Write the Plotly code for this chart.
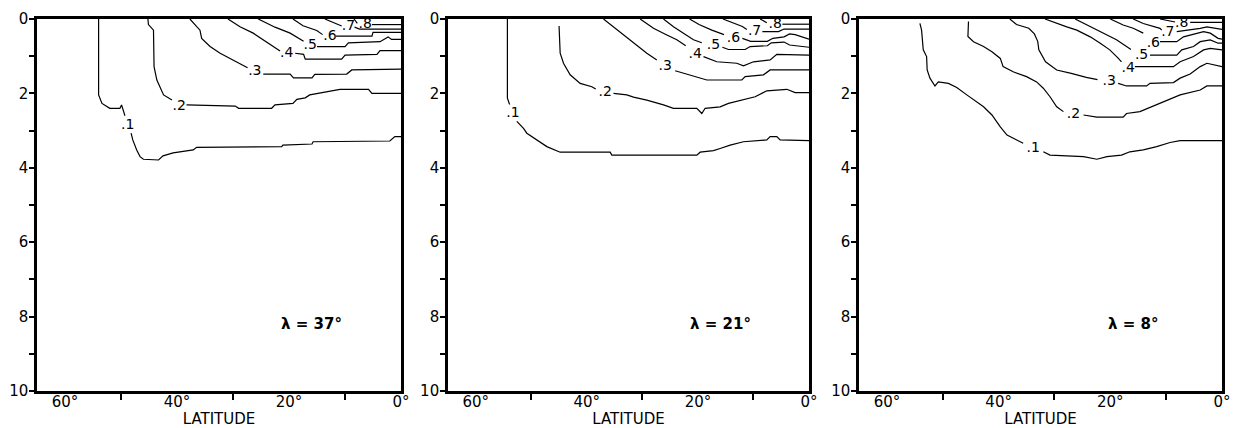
import plotly.graph_objects as go

# ---------------- data (latitude in degrees, depth in axis units) ----------------
panel_titles = ["λ = 37°", "λ = 21°", "λ = 8°"]
level_labels = [".1", ".2", ".3", ".4", ".5", ".6", ".7", ".8"]
x_tick_vals = [60, 40, 20, 0]
x_tick_text = ["60°", "40°", "20°", "0°"]
x_minor_vals = [50, 30, 10]
y_tick_vals = [0, 2, 4, 6, 8, 10]
y_minor_vals = [1, 3, 5, 7, 9]

# Panel 1 (lambda = 37)
p1_lat = [
    [54.0, 54.0, 53.4, 52.0, 50.2, 49.9, 49.3, None, 48.2, 47.9, 47.2, 46.6, 46.0, 43.3, 42.5, 40.7, 37.1, 36.5, 21.3, 21.1, 15.9, 15.7, 2.0, 1.1, 0.0],
    [45.2, 45.1, 44.2, 44.1, 43.6, 42.4, 40.9, None, 38.3, 29.6, 29.0, 23.1, 22.5, 19.3, 18.6, 17.1, 16.3, 14.8, 12.1, 10.9, 5.8, 5.2, 0.0],
    [37.7, 35.9, 35.6, 34.1, 32.3, 29.9, 28.2, 27.4, None, 24.6, 19.8, 19.2, 15.9, 15.4, 9.7, 8.8, 0.0],
    [30.9, 28.75, 26.4, 24.0, 22.2, 21.6, None, 18.9, 17.4, 17.1, 10.6, 10.0, 4.3, 3.75, 0.0],
    [25.5, 22.5, 19.8, 18.2, 17.4, None, 15.0, 10.0, 9.4, 3.75, 2.3, 1.7, 0.0],
    [19.3, 17.5, 15.05, 14.0, None, 11.6, 5.2, 5.0, 0.0],
    [13.6, 12.1, 10.6, None, 8.3, 7.4, 0.0],
    [8.4, 7.8, None, 5.2, 0.0],
]
p1_dep = [
    [0.0, 2.04, 2.27, 2.40, 2.40, 2.31, 2.60, None, 3.07, 3.25, 3.52, 3.70, 3.77, 3.79, 3.68, 3.60, 3.52, 3.45, 3.43, 3.39, 3.36, 3.30, 3.28, 3.16, 3.16],
    [0.0, 0.15, 0.30, 1.28, 1.64, 2.04, 2.18, None, 2.31, 2.34, 2.40, 2.40, 2.31, 2.27, 2.16, 2.12, 2.04, 2.00, 1.93, 1.89, 1.89, 2.00, 2.00],
    [0.0, 0.30, 0.52, 0.74, 0.92, 1.10, 1.24, 1.31, None, 1.48, 1.48, 1.58, 1.58, 1.49, 1.48, 1.37, 1.35],
    [0.0, 0.21, 0.38, 0.61, 0.79, 0.86, None, 0.92, 0.95, 1.08, 1.08, 0.97, 0.95, 0.85, 0.85],
    [0.0, 0.22, 0.38, 0.52, 0.60, None, 0.74, 0.74, 0.64, 0.61, 0.48, 0.55, 0.55],
    [0.0, 0.18, 0.31, 0.42, None, 0.46, 0.46, 0.36, 0.36],
    [0.0, 0.10, 0.19, None, 0.22, 0.27, 0.27],
    [0.0, 0.12, None, 0.15, 0.15],
]
p1_label_lat = [48.8, 39.6, 26.1, 20.4, 16.2, 12.7, 9.4, 6.4]
p1_label_dep = [2.85, 2.34, 1.40, 0.94, 0.72, 0.48, 0.21, 0.15]

# Panel 2 (lambda = 21)
p2_lat = [
    [54.3, 54.3, 53.9, None, 52.6, 51.4, 50.8, 49.0, 47.2, 44.8, 35.8, 35.5, 20.2, 19.6, 17.2, 16.0, 14.2, 11.8, 7.6, 7.0, 5.8, 5.2, 0.0],
    [45.0, 44.8, 44.2, 43.0, 41.2, 39.1, 38.4, None, 35.2, 32.8, 31.6, 29.2, 26.2, 24.4, 20.2, 19.3, 18.7, 16.0, 14.5, 11.8, 9.7, 7.6, 4.0, 2.5, 0.0],
    [37.0, 35.2, 33.4, 31.6, 29.2, 27.4, None, 24.1, 22.6, 20.8, 18.4, 12.1, 11.5, 8.2, 7.0, 0.0],
    [30.4, 28.0, 25.6, 23.8, 22.2, None, 19.0, 16.6, 13.0, 11.8, 10.0, 7.0, 5.8, 0.0],
    [26.2, 24.4, 22.6, 20.8, 19.3, None, 15.6, 14.5, 11.5, 10.6, 7.5, 6.8, 4.5, 3.5, 0.0],
    [21.5, 19.8, 17.5, 15.3, None, 12.0, 10.5, 7.5, 6.5, 4.5, 3.5, 2.5, 0.0],
    [15.5, 14.2, 12.0, 11.2, None, 8.4, 5.5, 4.5, 0.0],
    [8.8, 7.6, None, 4.8, 0.0],
]
p2_dep = [
    [0.0, 2.13, 2.30, None, 2.75, 2.94, 3.07, 3.25, 3.43, 3.58, 3.58, 3.66, 3.66, 3.58, 3.54, 3.48, 3.39, 3.30, 3.25, 3.16, 3.16, 3.25, 3.27],
    [0.19, 0.92, 1.19, 1.50, 1.73, 1.82, 1.88, None, 2.00, 2.04, 2.10, 2.18, 2.31, 2.40, 2.40, 2.54, 2.40, 2.36, 2.27, 2.18, 2.09, 1.93, 1.89, 1.98, 1.98],
    [0.0, 0.21, 0.43, 0.65, 0.92, 1.10, None, 1.39, 1.46, 1.53, 1.64, 1.64, 1.55, 1.50, 1.37, 1.37],
    [0.0, 0.25, 0.43, 0.56, 0.72, None, 1.01, 1.15, 1.19, 1.26, 1.15, 1.10, 0.95, 0.97],
    [0.0, 0.21, 0.38, 0.56, 0.64, None, 0.76, 0.82, 0.82, 0.74, 0.72, 0.64, 0.62, 0.70, 0.76],
    [0.0, 0.15, 0.30, 0.42, None, 0.52, 0.60, 0.60, 0.52, 0.48, 0.40, 0.42, 0.54],
    [0.0, 0.07, 0.20, 0.28, None, 0.34, 0.34, 0.27, 0.27],
    [0.0, 0.10, None, 0.14, 0.14],
]
p2_label_lat = [53.3, 36.7, 25.9, 20.5, 17.2, 13.6, 9.8, 6.1]
p2_label_dep = [2.55, 1.97, 1.28, 0.95, 0.72, 0.52, 0.34, 0.14]

# Panel 3 (lambda = 8)
p3_lat = [
    [54.1, 53.8, 53.5, 52.9, 52.8, 52.3, 51.4, 50.8, 49.0, 47.5, 45.7, 43.9, 42.7, 41.2, 39.7, 38.5, 37.4, 35.6, None, 32.0, 30.8, 24.8, 22.4, 20.6, 18.0, 16.5, 14.1, 11.7, 9.3, 7.5, 0.0],
    [45.4, 45.5, 44.5, 42.7, 41.2, 39.7, 39.2, 37.4, 35.0, 33.2, 32.0, 30.8, 29.6, 28.4, None, 24.8, 22.4, 17.7, 17.1, 14.7, 12.3, 9.9, 7.5, 3.9, 2.7, 0.0],
    [38.0, 36.8, 34.6, 33.6, 33.0, 32.8, 31.6, 29.6, 27.0, 24.3, 22.3, None, 18.6, 17.1, 13.5, 12.9, 8.7, 7.5, 5.7, 3.9, 2.7, 0.0],
    [31.7, 29.6, 27.8, 26.0, 23.6, 21.8, 20.1, 18.6, 18.0, None, 15.6, 8.7, 7.5, 5.1, 3.3, 2.1, 0.0],
    [26.3, 23.0, 21.3, 18.9, 17.1, 16.3, None, 12.9, 8.1, 7.2, 5.1, 3.9, 2.1, 0.7, 0.0],
    [20.0, 17.7, 15.9, 14.1, None, 11.1, 8.1, 6.9, 4.5, 3.3, 2.1, 0.7, 0.0],
    [15.9, 14.1, 11.1, 10.8, None, 8.1, 6.0, 3.9, 2.7, 0.0],
    [11.1, 8.4, None, 5.7, 0.0],
]
p3_dep = [
    [0.12, 0.30, 0.83, 1.01, 1.37, 1.59, 1.80, 1.69, 1.73, 1.84, 2.04, 2.22, 2.36, 2.58, 2.90, 3.12, 3.21, 3.34, None, 3.57, 3.66, 3.70, 3.77, 3.70, 3.66, 3.57, 3.52, 3.43, 3.32, 3.27, 3.27],
    [0.07, 0.47, 0.61, 0.74, 0.88, 1.06, 1.28, 1.42, 1.55, 1.69, 1.86, 2.09, 2.36, 2.49, None, 2.58, 2.64, 2.64, 2.54, 2.49, 2.34, 2.18, 2.04, 1.91, 1.80, 1.80],
    [0.0, 0.15, 0.25, 0.40, 0.60, 0.83, 1.15, 1.37, 1.46, 1.57, 1.63, None, 1.73, 1.80, 1.80, 1.73, 1.71, 1.59, 1.48, 1.28, 1.19, 1.28],
    [0.0, 0.12, 0.21, 0.30, 0.48, 0.65, 0.83, 1.05, 1.15, None, 1.28, 1.28, 1.15, 1.01, 0.83, 0.79, 0.83],
    [0.0, 0.25, 0.38, 0.56, 0.74, 0.82, None, 0.97, 0.97, 0.83, 0.74, 0.61, 0.56, 0.65, 0.65],
    [0.0, 0.16, 0.25, 0.38, None, 0.61, 0.61, 0.48, 0.38, 0.34, 0.38, 0.52, 0.54],
    [0.0, 0.12, 0.25, 0.30, None, 0.34, 0.30, 0.25, 0.21, 0.28],
    [0.0, 0.08, None, 0.09, 0.09],
]
p3_label_lat = [33.8, 26.6, 20.2, 16.8, 14.4, 12.3, 9.7, 7.2]
p3_label_dep = [3.48, 2.58, 1.69, 1.33, 0.97, 0.65, 0.37, 0.13]

panels = [
    (p1_lat, p1_dep, p1_label_lat, p1_label_dep),
    (p2_lat, p2_dep, p2_label_lat, p2_label_dep),
    (p3_lat, p3_dep, p3_label_lat, p3_label_dep),
]

# ---------------- figure ----------------
FONT = "DejaVu Sans"
fig = go.Figure()
domains = [[0.0, 0.3072], [0.3468, 0.6515], [0.6937, 1.0]]

for i, (lats, deps, llat, ldep) in enumerate(panels):
    xa = "x" if i == 0 else f"x{i+1}"
    ya = "y" if i == 0 else f"y{i+1}"
    for k in range(len(lats)):
        fig.add_trace(go.Scatter(
            x=lats[k], y=deps[k], mode="lines", xaxis=xa, yaxis=ya,
            line=dict(color="black", width=1.2), showlegend=False,
            hoverinfo="skip", connectgaps=False))
    fig.add_trace(go.Scatter(
        x=llat, y=ldep, mode="text", text=level_labels, xaxis=xa, yaxis=ya,
        textposition="middle center", textfont=dict(family=FONT, size=14, color="black"),
        showlegend=False, hoverinfo="skip", cliponaxis=False))

    axis_x = dict(
        domain=domains[i], range=[65, 0], anchor=ya, automargin=False,
        tickmode="array", tickvals=x_tick_vals, ticktext=x_tick_text,
        ticks="", showgrid=False, zeroline=False, ticklabelstandoff=-5,
        showline=True, linecolor="black", linewidth=2.5, mirror=True,
        minor=dict(tickmode="array", tickvals=x_minor_vals, ticks="outside",
                   ticklen=6, tickwidth=2, tickcolor="black", showgrid=False),
        tickfont=dict(family=FONT, size=15, color="black"),
        title=dict(text="LATITUDE", font=dict(family=FONT, size=15, color="black"), standoff=2),
    )
    axis_y = dict(
        domain=[0, 1], range=[10, 0], anchor=xa, automargin=False,
        tickmode="array", tickvals=y_tick_vals, ticks="outside", ticklen=5,
        tickwidth=2, tickcolor="black", showgrid=False, zeroline=False,
        ticklabelstandoff=-2,
        showline=True, linecolor="black", linewidth=2.5, mirror=True,
        minor=dict(tickmode="array", tickvals=y_minor_vals, ticks="outside",
                   ticklen=5, tickwidth=2, tickcolor="black", showgrid=False),
        tickfont=dict(family=FONT, size=15, color="black"),
    )
    fig.update_layout({("xaxis" if i == 0 else f"xaxis{i+1}"): axis_x,
                       ("yaxis" if i == 0 else f"yaxis{i+1}"): axis_y})
    fig.add_annotation(x=16, y=8.2, xref=xa, yref=ya, text=f"<b>{panel_titles[i]}</b>",
                       showarrow=False, font=dict(family=FONT, size=15, color="black"))

fig.update_layout(
    width=1236, height=428,
    margin=dict(l=37, r=14, t=19, b=37),
    paper_bgcolor="white", plot_bgcolor="white",
    showlegend=False,
)

fig.write_html("out.html")
